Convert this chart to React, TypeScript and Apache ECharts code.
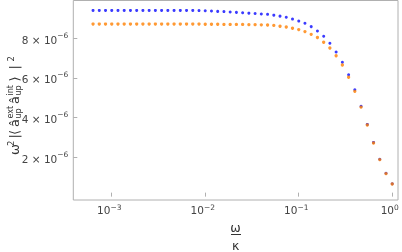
import React, { useEffect, useRef } from 'react';
import * as echarts from 'echarts';

// omega / kappa (log-spaced sample points)
const omegaOverKappa = [
  0.000631, 0.0007356, 0.0008577, 0.001, 0.001166, 0.001359, 0.001585, 0.001848, 0.002154, 0.002512,
  0.002929, 0.003415, 0.003981, 0.004642, 0.005412, 0.00631, 0.007356, 0.008577, 0.01, 0.01166,
  0.01359, 0.01585, 0.01848, 0.02154, 0.02512, 0.02929, 0.03415, 0.03981, 0.04642, 0.05412,
  0.0631, 0.07356, 0.08577, 0.1, 0.1166, 0.1359, 0.1585, 0.1848, 0.2154, 0.2512,
  0.2929, 0.3415, 0.3981, 0.4642, 0.5412, 0.631, 0.7356, 0.8577, 1.0,
];

const blueValues = [
  9.41e-6, 9.41e-6, 9.41e-6, 9.41e-6, 9.41e-6, 9.41e-6, 9.41e-6, 9.41e-6, 9.41e-6, 9.41e-6,
  9.41e-6, 9.41e-6, 9.41e-6, 9.41e-6, 9.41e-6, 9.41e-6, 9.41e-6, 9.40e-6, 9.39e-6, 9.38e-6,
  9.36e-6, 9.35e-6, 9.33e-6, 9.31e-6, 9.29e-6, 9.27e-6, 9.25e-6, 9.23e-6, 9.21e-6, 9.17e-6,
  9.12e-6, 9.06e-6, 8.97e-6, 8.87e-6, 8.76e-6, 8.59e-6, 8.37e-6, 8.10e-6, 7.75e-6, 7.31e-6,
  6.79e-6, 6.16e-6, 5.40e-6, 4.57e-6, 3.65e-6, 2.74e-6, 1.89e-6, 1.18e-6, 0.65e-6,
];

const orangeValues = [
  8.72e-6, 8.72e-6, 8.72e-6, 8.72e-6, 8.72e-6, 8.72e-6, 8.72e-6, 8.72e-6, 8.72e-6, 8.72e-6,
  8.72e-6, 8.72e-6, 8.72e-6, 8.72e-6, 8.72e-6, 8.72e-6, 8.72e-6, 8.72e-6, 8.71e-6, 8.71e-6,
  8.71e-6, 8.70e-6, 8.70e-6, 8.70e-6, 8.70e-6, 8.69e-6, 8.69e-6, 8.68e-6, 8.67e-6, 8.65e-6,
  8.61e-6, 8.57e-6, 8.51e-6, 8.44e-6, 8.34e-6, 8.20e-6, 8.04e-6, 7.80e-6, 7.51e-6, 7.12e-6,
  6.65e-6, 6.03e-6, 5.32e-6, 4.52e-6, 3.62e-6, 2.71e-6, 1.87e-6, 1.16e-6, 0.64e-6,
];

const xTickValues = [0.001, 0.01, 0.1, 1];
const yTickValues = [2e-6, 4e-6, 6e-6, 8e-6];

// y-axis title pieces: [text, position along text, offset across, font size]
const yTitlePieces: [string, number, number, number][] = [
  ['ω', 0, 14.6, 13],
  ['2', 9, 10.5, 8.5],
  ['|', 16.5, 14.6, 13],
  ['⟨', 20, 14.6, 13],
  ['â', 28, 14.6, 13],
  ['ext', 36.5, 10.5, 8],
  ['up', 36.5, 18.5, 8],
  ['â', 51, 14.6, 13],
  ['int', 59.5, 10.5, 8],
  ['up', 59.5, 18.5, 8],
  ['⟩', 73.5, 14.6, 13],
  ['|', 85.5, 14.6, 13],
  ['2', 93.5, 10.5, 8.5],
];

export default function App() {
  const ref = useRef<HTMLDivElement>(null);
  useEffect(() => {
    const chart = echarts.init(ref.current!, null, { renderer: 'svg' });
    const labelColor = '#444444';
    const titleColor = '#333333';
    const frameColor = '#b0b0b0';
    const font = 'DejaVu Sans';
    const richMain = { fontSize: 10.5, fontFamily: font, color: labelColor };
    const richSup = { fontSize: 7.5, fontFamily: font, color: labelColor, padding: [0, 0, 6, 0] };
    const richSupX = { fontSize: 7.5, fontFamily: font, color: labelColor, padding: [0, 5, 6, 0] };

    chart.setOption({
      animation: false,
      grid: {
        left: 73.3,
        right: 4,
        top: 0.5,
        bottom: 52,
        show: true,
        borderColor: frameColor,
        borderWidth: 1,
        backgroundColor: 'transparent',
        outerBoundsMode: 'none',
      },
      xAxis: {
        type: 'log',
        logBase: 10,
        min: 0.000388,
        max: 1.153,
        splitLine: { show: false },
        axisLine: { show: false },
        axisTick: {
          show: true,
          inside: true,
          length: 4,
          customValues: xTickValues,
          lineStyle: { color: frameColor },
        },
        axisLabel: {
          customValues: xTickValues,
          margin: 3,
          formatter: (v: number) => {
            const e = Math.round(Math.log10(v));
            const es = e < 0 ? '\u2212' + Math.abs(e) : String(e);
            return `{m|10}{s|${es}}`;
          },
          rich: { m: richMain, s: richSupX },
        },
      },
      yAxis: {
        type: 'value',
        min: -0.17e-6,
        max: 9.91e-6,
        splitLine: { show: false },
        axisLine: { show: false },
        axisTick: {
          show: true,
          inside: true,
          length: 4,
          customValues: yTickValues,
          lineStyle: { color: frameColor },
        },
        axisLabel: {
          customValues: yTickValues,
          margin: 5,
          formatter: (v: number) => `{m|${Math.round(v * 1e6)} × 10}{s|\u22126}`,
          rich: { m: { ...richMain, padding: [3, 0, 0, 0] }, s: richSup },
        },
      },
      series: [
        {
          type: 'scatter',
          symbol: 'circle',
          symbolSize: 3,
          itemStyle: { color: '#0a0aff' },
          data: omegaOverKappa.map((x, i) => [x, blueValues[i]]),
        },
        {
          type: 'scatter',
          symbol: 'circle',
          symbolSize: 3.3,
          itemStyle: { color: '#ff8000' },
          data: omegaOverKappa.map((x, i) => [x, orangeValues[i]]),
        },
      ],
      graphic: [
        {
          type: 'text',
          x: 235.6,
          y: 227.5,
          style: { text: 'ω', fontSize: 12.5, fontFamily: font, fill: titleColor, align: 'center', verticalAlign: 'middle' },
        },
        {
          type: 'line',
          shape: { x1: 231, y1: 234.5, x2: 241, y2: 234.5 },
          style: { stroke: titleColor, lineWidth: 1 },
        },
        {
          type: 'text',
          x: 235.6,
          y: 245.7,
          style: { text: 'κ', fontSize: 12.5, fontFamily: font, fill: titleColor, align: 'center', verticalAlign: 'middle' },
        },
        {
          type: 'group',
          x: 0,
          y: 155,
          rotation: Math.PI / 2,
          children: yTitlePieces.map(([t, u, v, size]) => ({
            type: 'text',
            x: u,
            y: v,
            style: { text: t, fontSize: size, fontFamily: font, fill: titleColor, align: 'left', verticalAlign: 'middle' },
          })),
        },
      ],
    });
    return () => chart.dispose();
  }, []);
  return <div ref={ref} style={{ position: 'fixed', left: 0, top: 0, width: 402, height: 252 }} />;
}
